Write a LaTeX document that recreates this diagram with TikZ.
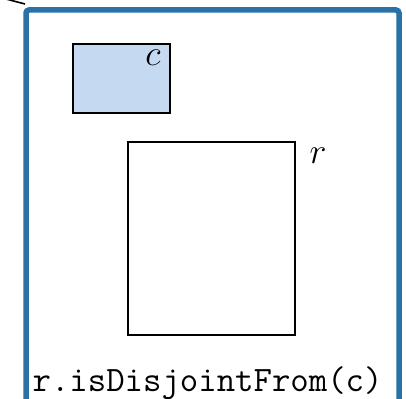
\documentclass[tikz,border=0pt]{standalone}
\begin{document}
\begin{tikzpicture}[x=1pt,y=-1pt,
  frame/.style={draw=framblue,line width=5.5pt,rounded corners=3pt},
  region/.style={draw=black,line width=1.8pt},
  lbl/.style={inner sep=0pt,font=\fontsize{12}{14}\selectfont,scale=3}]
\definecolor{framblue}{RGB}{40,114,165}
\definecolor{cfill}{RGB}{197,217,241}
\useasboundingbox (0,0) rectangle (406,398);
% outer frame, running past the lower page edge
\draw[frame] (26,10) rectangle (399,420);
% stray line entering at the upper left
\coordinate (s0) at (6,-1);
\coordinate (s1) at (25,4);
\draw[line width=1.6pt] (s0) -- (s1);
% the two rectangles
\draw[region,fill=cfill] (73,44) rectangle (170,113);
\node[lbl] (c) at (153,58) {$c$};
\draw[region] (128,142) rectangle (295,335);
\node[lbl] (r) at (318,156) {$r$};
\node[inner sep=0pt,anchor=base west,font=\ttfamily\fontsize{12}{14}\selectfont,scale=2.98] (t) at (32,391) {r.isDisjointFrom(c)};
\end{tikzpicture}
\end{document}
